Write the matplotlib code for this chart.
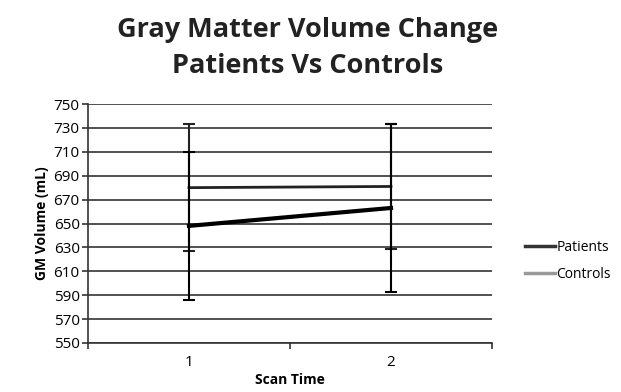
import matplotlib.pyplot as plt
from matplotlib.lines import Line2D

scan_time = [1, 2]
patients = [648, 663]
patients_err = [62, 70]
controls = [680, 681]
controls_err = [53, 52]

plt.rcParams['font.family'] = ['Open Sans', 'DejaVu Sans']

fig = plt.figure(figsize=(6.21, 3.92), dpi=100)
ax = fig.add_axes([88 / 621, 1 - 343 / 392, (492 - 88) / 621, (343 - 104) / 392])

ax.errorbar(scan_time, controls, yerr=controls_err, color='#222222', lw=2,
            elinewidth=1.5, capsize=4, capthick=1.5, zorder=3)
ax.errorbar(scan_time, patients, yerr=patients_err, color='black', lw=3,
            elinewidth=1.5, capsize=4, capthick=1.5, zorder=4)

ax.set_xlim(0.5, 2.5)
ax.set_ylim(550, 750)
ax.set_yticks(range(550, 751, 20))
ax.set_xticks([0.5, 1.5, 2.5])
ax.set_xticklabels([])
ax.set_xticks(scan_time, minor=True)
ax.set_xticklabels([str(s) for s in scan_time], minor=True)
ax.tick_params(axis='x', which='minor', length=0, pad=9, labelsize=11)
ax.tick_params(axis='x', which='major', length=4, width=1.2, color='#333333')
ax.tick_params(axis='y', length=4, width=1.2, color='#333333', labelsize=11, pad=2)
ax.yaxis.grid(True, color='#333333', lw=1.2)
ax.set_axisbelow(True)
for s in ['top', 'right']:
    ax.spines[s].set_visible(False)
for s in ['left', 'bottom']:
    ax.spines[s].set_color('#333333')
    ax.spines[s].set_linewidth(1.2)

ax.set_ylabel('GM Volume (mL)', fontsize=10, fontweight='bold', labelpad=3)
ax.set_xlabel('Scan Time', fontsize=10, fontweight='bold', labelpad=2)

fig.text(0.495, 1 - 30 / 392, 'Gray Matter Volume Change', ha='center', va='center',
         fontsize=19.5, fontweight='bold', color='#222222')
fig.text(0.495, 1 - 66 / 392, 'Patients Vs Controls', ha='center', va='center',
         fontsize=19.5, fontweight='bold', color='#222222')

handles = [Line2D([], [], color='#333333', lw=2.5),
           Line2D([], [], color='#999999', lw=2.5)]
fig.legend(handles, ['Patients', 'Controls'], loc='center left',
           bbox_to_anchor=(512 / 621, 1 - 261 / 392), frameon=False,
           handlelength=2.2, handletextpad=0.1, labelspacing=0.9, fontsize=10)

fig.savefig('out.png', dpi=100)
